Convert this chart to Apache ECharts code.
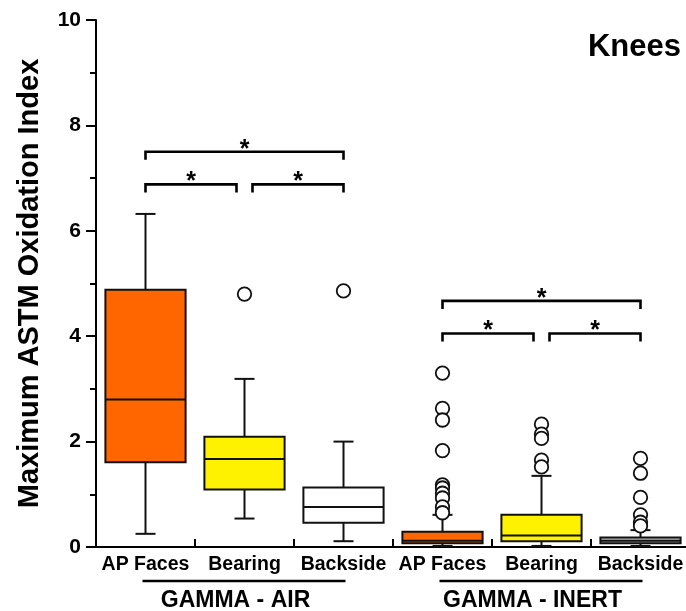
<!DOCTYPE html>
<html><head><meta charset="utf-8">
<script src="https://cdn.jsdelivr.net/npm/echarts@6/dist/echarts.min.js"></script>
<style>html,body{margin:0;padding:0;background:#fff}#c{width:686px;height:611px}</style>
</head><body><div id="c"></div>
<script>
// ---- data ----
const categories = ['AP Faces', 'Bearing', 'Backside', 'AP Faces', 'Bearing', 'Backside'];
const groupLabels = ['GAMMA - AIR', 'GAMMA - INERT'];
const groupStart = [0, 3];
const groupEnd = [2, 5];
const boxMin    = [0.25, 0.54, 0.11, 0.02, 0.02, 0.02];
const boxQ1     = [1.61, 1.09, 0.46, 0.07, 0.11, 0.07];
const boxMedian = [2.80, 1.67, 0.76, 0.12, 0.22, 0.12];
const boxQ3     = [4.88, 2.09, 1.13, 0.29, 0.61, 0.18];
const boxMax    = [6.32, 3.19, 2.00, 0.61, 1.35, 0.32];
const boxColors = ['#FF6600', '#FFF200', '#FFFFFF', '#FF6600', '#FFF200', '#BDBDBD'];
const outliers = [
  [],
  [4.80],
  [4.86],
  [3.30, 2.63, 2.41, 1.83, 1.18, 1.12, 1.02, 0.93, 0.76, 0.65],
  [2.33, 2.14, 2.06, 1.65, 1.52],
  [1.68, 1.40, 0.94, 0.61, 0.47, 0.40]
];
const bracketStart = [0, 0, 1, 3, 3, 4];
const bracketEnd   = [2, 1, 2, 5, 4, 5];
const bracketLevel = [7.50, 6.88, 6.88, 4.67, 4.05, 4.05];
const bracketMark = ['*', '*', '*', '*', '*', '*'];
const yTicks = [0, 2, 4, 6, 8, 10];
const yTitle = 'Maximum ASTM Oxidation Index';
const panelTitle = 'Knees';

// ---- build ----
const FONT = '"Liberation Sans", Arial, sans-serif';
const INK = '#000';

const boxData = categories.map((c, i) => [i, boxMin[i], boxQ1[i], boxMedian[i], boxQ3[i], boxMax[i]]);
const outlierData = [];
outliers.forEach((arr, i) => arr.forEach(v => outlierData.push([i, v])));
const bracketData = bracketStart.map((s, i) => [s, bracketEnd[i], bracketLevel[i], i]);
const groupData = groupLabels.map((g, i) => [groupStart[i], groupEnd[i], 0, i]);

const chart = echarts.init(document.getElementById('c'), null, {renderer: 'canvas'});
chart.setOption({
  animation: false,
  backgroundColor: '#fff',
  grid: {left: 96, top: 20, width: 594, height: 527, containLabel: false, outerBoundsMode: 'none'},
  graphic: [{
    type: 'text', x: 681, y: 47,
    style: {text: panelTitle, font: 'bold 31px ' + FONT, fill: INK, textAlign: 'right', textVerticalAlign: 'middle'}
  }],
  xAxis: {
    type: 'category', data: categories, boundaryGap: true,
    axisLine: {lineStyle: {color: INK, width: 2}},
    axisTick: {show: true, inside: true, length: 8, interval: 0, alignWithLabel: false, lineStyle: {color: INK, width: 2}},
    axisLabel: {interval: 0, margin: 8, color: INK, fontFamily: FONT, fontWeight: 'bold', fontSize: 19.5},
    splitLine: {show: false}
  },
  yAxis: {
    type: 'value', min: yTicks[0], max: yTicks[yTicks.length - 1], interval: yTicks[1] - yTicks[0],
    name: yTitle, nameLocation: 'middle', nameRotate: 90, nameGap: 52,
    nameTextStyle: {color: INK, fontFamily: FONT, fontWeight: 'bold', fontSize: 29},
    axisLine: {show: true, lineStyle: {color: INK, width: 2}},
    axisTick: {show: true, inside: false, length: 10, lineStyle: {color: INK, width: 2}},
    minorTick: {show: true, splitNumber: 2, length: 6, lineStyle: {color: INK, width: 2}},
    axisLabel: {margin: 15, color: INK, fontFamily: FONT, fontWeight: 'bold', fontSize: 21},
    splitLine: {show: false}
  },
  series: [
    {
      type: 'custom', name: 'boxes', data: boxData, z: 2, clip: false,
      renderItem: function (params, api) {
        const i = api.value(0);
        const band = api.size([1, 0])[0];
        const half = band * 0.405;
        const cap = 10;
        const pMin = api.coord([i, api.value(1)]);
        const pQ1 = api.coord([i, api.value(2)]);
        const pMed = api.coord([i, api.value(3)]);
        const pQ3 = api.coord([i, api.value(4)]);
        const pMax = api.coord([i, api.value(5)]);
        const x = pMed[0];
        const ls = {stroke: '#111', lineWidth: 2};
        return {
          type: 'group',
          children: [
            {type: 'line', shape: {x1: x, y1: pQ3[1], x2: x, y2: pMax[1]}, style: ls},
            {type: 'line', shape: {x1: x - cap, y1: pMax[1], x2: x + cap, y2: pMax[1]}, style: ls},
            {type: 'line', shape: {x1: x, y1: pQ1[1], x2: x, y2: pMin[1]}, style: ls},
            {type: 'line', shape: {x1: x - cap, y1: pMin[1], x2: x + cap, y2: pMin[1]}, style: ls},
            {type: 'rect', shape: {x: x - half, y: pQ3[1], width: half * 2, height: pQ1[1] - pQ3[1]},
              style: {fill: boxColors[i], stroke: '#111', lineWidth: 2}},
            {type: 'line', shape: {x1: x - half, y1: pMed[1], x2: x + half, y2: pMed[1]}, style: ls}
          ]
        };
      }
    },
    {
      type: 'scatter', name: 'outliers', data: outlierData, z: 3,
      symbol: 'circle', symbolSize: 13.5,
      itemStyle: {color: '#fff', borderColor: '#111', borderWidth: 1.8, opacity: 1}
    },
    {
      type: 'custom', name: 'brackets', data: bracketData, z: 4, clip: false,
      renderItem: function (params, api) {
        const s = api.value(0), e = api.value(1), lvl = api.value(2), k = api.value(3);
        const p0 = api.coord([s, lvl]);
        const p1 = api.coord([e, lvl]);
        let x0 = p0[0], x1 = p1[0];
        if (e - s === 1) {
          if (s % 3 === 1) x0 += 8;
          if (e % 3 === 1) x1 -= 8;
        }
        const y = p0[1];
        const t = 8;
        return {
          type: 'group',
          children: [
            {type: 'polyline', shape: {points: [[x0, y + t], [x0, y], [x1, y], [x1, y + t]]},
              style: {stroke: INK, lineWidth: 2.6, fill: null}},
            {type: 'text', x: (x0 + x1) / 2, y: y - 2,
              style: {text: bracketMark[k], font: 'bold 25px ' + FONT, fill: INK, textAlign: 'center', textVerticalAlign: 'middle'}}
          ]
        };
      }
    },
    {
      type: 'custom', name: 'groups', data: groupData, z: 4, clip: false,
      renderItem: function (params, api) {
        const s = api.value(0), e = api.value(1), k = api.value(3);
        const p0 = api.coord([s, api.value(2)]);
        const p1 = api.coord([e, api.value(2)]);
        const y = p0[1];
        return {
          type: 'group',
          children: [
            {type: 'line', shape: {x1: p0[0] - 3, y1: y + 34, x2: p1[0] + 2, y2: y + 34},
              style: {stroke: INK, lineWidth: 2.6}},
            {type: 'text', x: (p0[0] + p1[0]) / 2 - 9, y: y + 54,
              style: {text: groupLabels[k], font: 'bold 23px ' + FONT, fill: INK, textAlign: 'center', textVerticalAlign: 'middle'}}
          ]
        };
      }
    }
  ]
});
</script>
</body></html>
